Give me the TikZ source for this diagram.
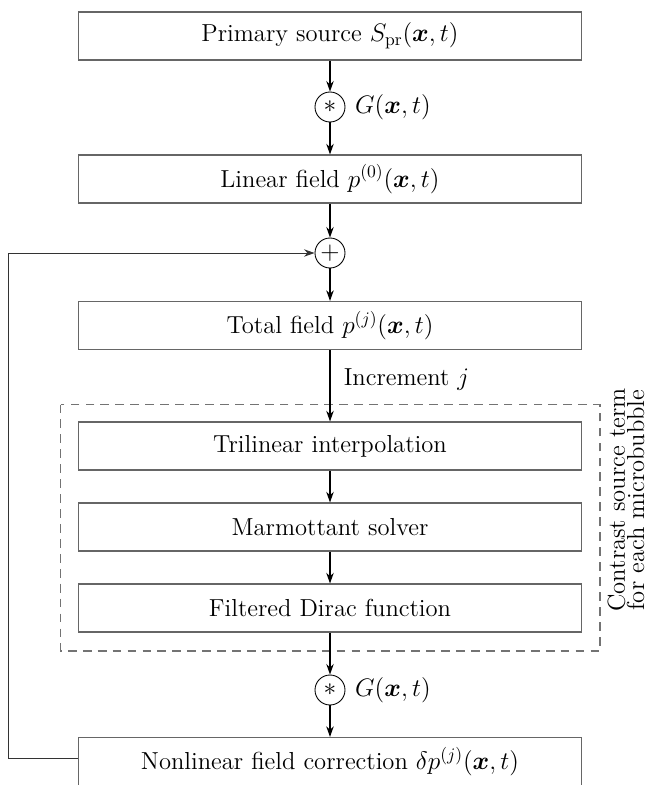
\documentclass[tikz,border=0pt]{standalone}
\usepackage{amsmath}
\usepackage{bm}
\usetikzlibrary{arrows.meta}
\begin{document}
\begin{tikzpicture}[x=0.02cm,y=-0.02cm,
  every node/.style={font=\fontsize{14}{17}\selectfont},
  blockbox/.style={draw=black!60, line width=0.6pt, minimum width=10.08cm, minimum height=0.96cm, inner sep=0pt},
  opcircle/.style={draw=black, line width=0.5pt, circle, minimum size=0.6cm, inner sep=0pt},
  flow/.style={line width=1pt, -{Stealth[length=6pt,width=4.2pt]}},
  feedback/.style={line width=0.5pt, draw=black!80, -{Stealth[length=6pt,width=4.2pt]}},
  groupframe/.style={draw=black!55, line width=0.7pt, dash pattern=on 5pt off 3.5pt}
]
\useasboundingbox (0,0) rectangle (649,785);

% main chain
\node[blockbox] (src) at (330,36) {Primary source $S_{\mathrm{pr}}(\bm{x},t)$};
\node[opcircle] (conv1) at (330,107) {$*$};
\node[anchor=west, xshift=2pt] (g1) at (conv1.east) {$G(\bm{x},t)$};
\node[blockbox] (lin) at (330,179) {Linear field $p^{(0)}(\bm{x},t)$};
\node[opcircle] (sum) at (330,253) {$+$};
\node[blockbox] (tot) at (330,325.5) {Total field $p^{(j)}(\bm{x},t)$};

% contrast source group
\node[blockbox] (tri) at (330,446) {Trilinear interpolation};
\node[blockbox] (mar) at (330,527) {Marmottant solver};
\node[blockbox] (dir) at (330,608) {Filtered Dirac function};
\draw[groupframe] (60.5,404.5) rectangle (600,651);
\node[rotate=90, align=center, inner sep=0pt,
      font=\fontsize{14}{11}\selectfont] (grp) at (626,500)
  {Contrast source term\\ for each microbubble};

\node[opcircle] (conv2) at (330,690) {$*$};
\node[anchor=west, xshift=2pt] (g2) at (conv2.east) {$G(\bm{x},t)$};
\node[blockbox] (nl) at (330,761.5) {Nonlinear field correction $\delta p^{(j)}(\bm{x},t)$};

% connectors
\draw[flow] (src) -- (conv1);
\draw[flow] (conv1) -- (lin);
\draw[flow] (lin) -- (sum);
\draw[flow] (sum) -- (tot);
\draw[flow] (tot) -- node[anchor=west, pos=0.42, xshift=4pt] (inc) {Increment $j$} (tri);
\draw[flow] (tri) -- (mar);
\draw[flow] (mar) -- (dir);
\draw[flow] (dir) -- (conv2);
\draw[flow] (conv2) -- (nl);

% feedback loop
\coordinate (fb) at (8,758);
\draw[feedback] (nl.west |- fb) -- (fb) |- (sum);
\end{tikzpicture}
\end{document}
